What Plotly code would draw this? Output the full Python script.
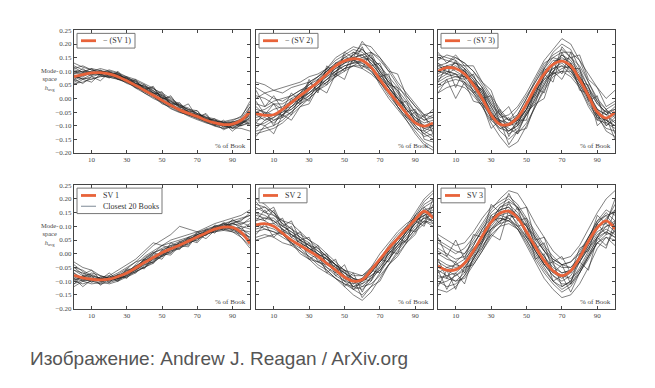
import plotly.graph_objects as go

# ---------------- data (values in thousandths of mode-space units) ----------------
x_pct = [0, 5, 10, 15, 20, 25, 30, 35, 40, 45, 50, 55, 60, 65, 70, 75, 80, 85, 90, 95, 100]
x_ticks = [10, 30, 50, 70, 90]
y_ticks = [-0.20, -0.15, -0.10, -0.05, 0.00, 0.05, 0.10, 0.15, 0.20, 0.25]

panel_titles = ["− (SV 1)", "− (SV 2)", "− (SV 3)", "SV 1", "SV 2", "SV 3"]
books_label = "Closest 20 Books"

sv_neg1 = [80, 88, 94, 95, 90, 80, 65, 48, 30, 12, -7, -25, -42, -55, -66, -80, -90, -96, -94, -80, -48]
sv_neg2 = [-55, -62, -60, -40, -15, 10, 35, 60, 90, 120, 138, 146, 140, 115, 70, 25, -15, -55, -90, -102, -90]
sv_neg3 = [100, 113, 110, 90, 50, 0, -60, -95, -95, -70, -20, 40, 90, 125, 137, 120, 70, 10, -50, -72, -50]
sv_pos1 = [-79, -88, -93, -95, -93, -83, -70, -52, -32, -14, 4, 18, 31, 46, 61, 76, 90, 97, 96, 78, 37]
sv_pos2 = [105, 110, 100, 75, 50, 30, 10, -10, -35, -60, -85, -100, -95, -60, -20, 20, 55, 90, 125, 155, 130]
sv_pos3 = [-45, -60, -58, -35, 10, 65, 115, 148, 155, 130, 80, 25, -25, -62, -80, -62, -15, 45, 95, 120, 90]

books_neg1 = [
    [105, 98, 110, 102, 95, 88, 72, 60, 38, 22, 5, -15, -30, -50, -62, -78, -85, -100, -92, -85, -60],
    [60, 75, 70, 82, 78, 70, 62, 40, 28, 15, -10, -30, -45, -60, -75, -85, -100, -110, -105, -95, -70],
    [130, 115, 105, 100, 92, 85, 75, 55, 45, 25, 10, -5, -25, -40, -58, -70, -82, -90, -88, -75, -30],
    [90, 95, 100, 110, 100, 92, 78, 62, 40, 20, 0, -20, -38, -50, -60, -75, -95, -100, -110, -100, -90],
    [55, 60, 72, 80, 85, 75, 55, 45, 20, 0, -15, -35, -50, -62, -70, -85, -92, -95, -90, -80, -100],
    [100, 90, 85, 95, 105, 95, 80, 70, 55, 38, 15, -10, -25, -35, -55, -70, -80, -88, -82, -65, -20],
    [75, 80, 95, 90, 85, 82, 70, 50, 35, 15, -5, -20, -45, -60, -72, -88, -102, -110, -100, -90, -75],
    [110, 120, 105, 95, 88, 70, 58, 45, 25, 10, -15, -38, -52, -58, -65, -75, -80, -92, -100, -85, -50],
    [85, 70, 80, 90, 95, 90, 70, 55, 42, 30, 5, -12, -28, -48, -70, -82, -95, -100, -95, -88, -40],
    [65, 85, 92, 88, 80, 78, 68, 52, 25, 8, -20, -30, -40, -52, -68, -80, -88, -98, -108, -110, -120],
    [95, 100, 90, 98, 92, 88, 65, 40, 32, 20, 2, -8, -35, -55, -60, -72, -85, -85, -78, -70, -10],
    [80, 72, 88, 100, 98, 85, 75, 65, 50, 28, 10, -22, -40, -45, -58, -78, -90, -105, -98, -92, -80],
    [120, 105, 95, 85, 78, 72, 60, 38, 20, 5, -10, -28, -48, -65, -78, -90, -98, -92, -86, -80, -65],
    [70, 90, 100, 92, 96, 80, 62, 55, 45, 35, 20, 0, -20, -42, -55, -68, -75, -88, -95, -100, -85],
    [90, 110, 85, 105, 80, 95, 60, 70, 30, 45, -5, 10, -35, -20, -70, -55, -95, -80, -110, -90, -70],
    [70, 55, 80, 65, 95, 70, 75, 45, 50, 20, 15, -20, -15, -50, -45, -80, -75, -105, -85, -100, -55],
    [115, 95, 110, 85, 100, 75, 80, 55, 35, 40, 0, 5, -30, -40, -45, -85, -90, -115, -100, -75, -95],
    [50, 70, 60, 90, 75, 100, 60, 65, 35, 15, 25, -25, -20, -55, -65, -60, -100, -90, -120, -95, -30],
]
books_neg2 = [
    [-80, -70, -90, -60, -30, 0, 20, 50, 80, 110, 130, 150, 160, 130, 90, 40, 0, -40, -80, -110, -120],
    [-20, -30, -10, 0, 10, 30, 50, 70, 100, 130, 150, 140, 120, 100, 60, 20, -20, -60, -100, -130, -150],
    [-120, -110, -100, -80, -50, -20, 10, 40, 70, 100, 120, 130, 140, 120, 80, 40, 0, -40, -70, -90, -80],
    [0, 20, 30, 40, 50, 60, 80, 90, 110, 140, 160, 180, 170, 140, 100, 60, 30, -10, -50, -80, -60],
    [-60, -80, -70, -50, -40, -10, 20, 50, 70, 90, 110, 120, 110, 90, 60, 20, -30, -70, -110, -140, -130],
    [-100, -90, -70, -40, -10, 20, 40, 60, 90, 110, 130, 160, 200, 190, 150, 100, 50, 0, -50, -70, -100],
    [-40, -50, -60, -50, -20, 0, 30, 70, 100, 130, 140, 150, 140, 110, 50, 0, -40, -80, -120, -160, -180],
    [-70, -60, -40, -30, -10, 20, 60, 80, 110, 120, 140, 160, 180, 150, 120, 80, 40, 10, -30, -60, -50],
    [40, 20, 0, -10, 10, 30, 40, 60, 80, 100, 120, 130, 130, 100, 60, 10, -30, -70, -90, -110, -100],
    [-130, -120, -110, -90, -60, -30, 0, 30, 60, 90, 110, 120, 120, 110, 80, 40, 0, -30, -70, -100, -110],
    [-50, -40, -20, -20, 0, 20, 50, 80, 110, 150, 170, 190, 180, 150, 100, 40, -10, -50, -100, -130, -110],
    [-90, -100, -80, -60, -40, -10, 10, 40, 60, 80, 100, 120, 140, 150, 120, 70, 20, -20, -60, -80, -70],
    [10, 0, -20, -40, -30, 0, 20, 40, 70, 100, 130, 140, 130, 110, 70, 30, -30, -80, -130, -170, -190],
    [-110, -80, -60, -60, -30, -10, 30, 60, 90, 120, 150, 170, 160, 130, 90, 50, 10, -40, -80, -100, -90],
    [60, 50, 30, 20, 40, 50, 60, 80, 100, 120, 140, 150, 160, 170, 150, 110, 60, 20, -20, -60, -70],
    [-30, -60, -80, -70, -50, -20, 0, 30, 50, 80, 110, 140, 150, 140, 110, 60, 0, -60, -110, -120, -140],
    [-90, -50, -100, -40, -60, 10, -10, 70, 50, 130, 100, 170, 150, 160, 80, 90, -20, -10, -90, -60, -130],
    [-10, -60, -20, -70, 0, -20, 60, 30, 110, 80, 160, 130, 190, 120, 130, 50, 40, -50, -40, -120, -100],
    [-140, -100, -130, -60, -80, -30, -20, 40, 20, 90, 70, 150, 110, 170, 100, 60, 30, -70, -50, -150, -160],
    [30, -30, 10, -40, 20, -10, 70, 20, 120, 90, 170, 150, 210, 170, 140, 100, 90, 10, -30, -70, -40],
]
books_neg3 = [
    [150, 140, 130, 100, 70, 20, -30, -80, -100, -90, -40, 20, 80, 130, 160, 140, 90, 20, -40, -60, -30],
    [60, 80, 90, 80, 40, -10, -70, -120, -150, -120, -60, 0, 60, 100, 120, 110, 60, 0, -60, -100, -80],
    [120, 130, 150, 130, 100, 60, 10, -40, -80, -60, 0, 60, 120, 160, 180, 150, 100, 40, -20, -50, -60],
    [80, 100, 90, 60, 20, -30, -80, -110, -120, -100, -50, 10, 70, 110, 130, 100, 50, -10, -70, -110, -120],
    [160, 150, 140, 110, 80, 40, -20, -70, -60, -30, 20, 80, 140, 180, 220, 200, 140, 60, 0, -40, -20],
    [40, 60, 70, 60, 30, -10, -60, -90, -110, -130, -90, -30, 40, 90, 110, 120, 80, 20, -40, -80, -100],
    [110, 120, 100, 80, 60, 10, -40, -100, -130, -110, -60, -10, 50, 100, 140, 150, 120, 60, -10, -60, -40],
    [130, 110, 120, 100, 60, 30, -20, -60, -80, -80, -40, 30, 100, 140, 140, 110, 40, -30, -80, -90, -60],
    [90, 110, 130, 120, 80, 40, -10, -60, -100, -80, -30, 40, 90, 110, 120, 90, 50, 0, -40, -60, -90],
    [20, 40, 50, 40, 10, -30, -90, -140, -180, -160, -100, -30, 30, 80, 100, 100, 60, 10, -50, -90, -110],
    [140, 160, 150, 130, 100, 50, 0, -50, -80, -40, 10, 60, 110, 150, 170, 170, 140, 90, 40, 0, 30],
    [100, 90, 80, 70, 30, -20, -70, -110, -100, -80, -40, 20, 80, 130, 150, 130, 80, 20, -60, -120, -140],
    [70, 90, 110, 100, 60, 10, -50, -90, -120, -90, -40, 40, 110, 170, 200, 180, 110, 40, -10, -40, -70],
    [120, 100, 90, 50, 20, -20, -60, -80, -90, -70, -20, 30, 70, 90, 100, 80, 40, -20, -70, -80, -50],
    [50, 70, 80, 80, 60, 30, -30, -90, -120, -100, -60, 0, 50, 120, 160, 130, 80, 30, -20, -50, -40],
    [100, 120, 130, 110, 70, 20, -50, -100, -100, -60, 0, 70, 130, 150, 140, 110, 70, 0, -60, -80, -100],
    [130, 90, 140, 70, 90, 0, 10, -90, -70, -130, -50, -20, 90, 60, 170, 110, 110, -10, 10, -100, -70],
    [60, 120, 40, 110, 20, 40, -80, -40, -140, -80, -80, 40, 20, 130, 90, 170, 60, 50, -80, -40, -130],
    [170, 130, 160, 120, 120, 60, 30, -60, -30, -100, -10, 10, 110, 90, 190, 150, 160, 70, 40, -30, -10],
    [20, 70, 0, 60, -10, -20, -110, -80, -170, -120, -110, -20, 0, 100, 70, 130, 30, 20, -100, -70, -150],
]
books_pos1 = [
    [-30, -50, -60, -80, -90, -85, -70, -40, -10, 10, 30, 40, 50, 60, 70, 80, 90, 100, 110, 120, 150],
    [-100, -110, -100, -95, -90, -80, -60, -50, -40, -20, -10, 10, 20, 40, 50, 70, 85, 95, 90, 80, 60],
    [-60, -70, -90, -100, -95, -90, -80, -60, -30, 0, 30, 50, 60, 70, 80, 95, 110, 120, 130, 140, 160],
    [-120, -100, -95, -90, -100, -90, -70, -45, -25, -10, 0, 20, 40, 50, 60, 75, 80, 90, 80, 60, 30],
    [-80, -85, -70, -80, -90, -75, -55, -30, 0, 30, 50, 70, 100, 90, 80, 85, 95, 100, 110, 100, 90],
    [-90, -100, -110, -105, -95, -90, -85, -65, -50, -30, -5, 10, 25, 40, 60, 80, 95, 100, 95, 70, 40],
    [-50, -60, -80, -90, -85, -70, -50, -30, -20, 0, 20, 30, 35, 45, 55, 70, 85, 105, 120, 130, 140],
    [-110, -95, -90, -100, -110, -100, -85, -70, -45, -20, 0, 15, 30, 50, 70, 85, 100, 110, 100, 90, 70],
    [-70, -90, -95, -85, -80, -60, -40, -20, 10, 40, 30, 20, 30, 50, 70, 80, 90, 95, 105, 110, 120],
    [-100, -80, -75, -90, -95, -85, -75, -60, -40, -30, -10, 5, 20, 35, 55, 70, 80, 85, 80, 70, 50],
    [-40, -65, -85, -95, -100, -90, -80, -50, -20, 5, 15, 25, 40, 60, 75, 90, 100, 105, 110, 125, 140],
    [-85, -95, -100, -110, -105, -95, -80, -65, -50, -35, -5, 15, 35, 55, 65, 75, 85, 90, 85, 75, 60],
    [-95, -85, -80, -90, -85, -80, -70, -55, -35, -15, 10, 30, 45, 55, 60, 70, 95, 110, 120, 115, 100],
    [-60, -80, -95, -100, -90, -80, -65, -45, -25, -5, 5, 20, 30, 45, 60, 80, 90, 95, 90, 85, 80],
    [-70, -100, -80, -115, -90, -100, -60, -70, -20, -35, 15, 0, 45, 30, 80, 65, 105, 90, 125, 105, 130],
    [-110, -80, -105, -85, -105, -75, -90, -50, -55, -10, -20, 25, 15, 60, 45, 90, 75, 110, 85, 100, 50],
    [-50, -75, -60, -95, -70, -95, -55, -60, -15, 5, -10, 40, 25, 50, 40, 75, 100, 85, 115, 90, 110],
    [-90, -120, -95, -110, -80, -100, -75, -45, -50, -25, 0, -5, 30, 25, 70, 55, 85, 115, 95, 60, 20],
]
books_pos2 = [
    [150, 140, 120, 100, 80, 50, 20, 0, -20, -50, -80, -120, -130, -100, -50, 0, 40, 80, 130, 180, 200],
    [80, 90, 80, 60, 40, 20, -10, -40, -60, -90, -110, -120, -100, -70, -30, 10, 40, 80, 110, 130, 120],
    [200, 180, 150, 120, 90, 60, 40, 10, -20, -40, -60, -80, -80, -50, -20, 20, 60, 100, 150, 200, 230],
    [120, 130, 120, 90, 60, 40, 20, -10, -50, -80, -100, -130, -150, -120, -70, -20, 20, 60, 100, 130, 140],
    [60, 70, 60, 40, 30, 10, -10, -30, -50, -70, -100, -110, -90, -50, 0, 40, 80, 110, 130, 150, 110],
    [170, 150, 140, 120, 110, 80, 50, 30, 0, -30, -60, -90, -110, -90, -40, 0, 30, 70, 110, 150, 170],
    [100, 110, 110, 90, 70, 40, 20, 0, -30, -50, -70, -90, -100, -80, -50, -10, 30, 70, 110, 160, 170],
    [130, 120, 100, 70, 40, 10, -20, -50, -70, -90, -120, -150, -170, -140, -90, -40, 10, 50, 90, 120, 100],
    [50, 60, 70, 80, 70, 50, 30, 10, -10, -40, -60, -70, -80, -60, -30, 10, 50, 90, 140, 190, 220],
    [160, 170, 150, 110, 70, 50, 30, 0, -20, -40, -70, -100, -120, -110, -80, -40, 0, 40, 80, 110, 130],
    [90, 100, 90, 70, 40, 0, -20, -30, -40, -60, -90, -120, -110, -70, -20, 30, 70, 100, 120, 140, 150],
    [140, 130, 130, 100, 80, 60, 30, 20, -10, -40, -80, -100, -90, -60, -30, 0, 40, 80, 120, 140, 160],
    [110, 90, 80, 70, 50, 30, 0, -20, -60, -90, -110, -130, -120, -90, -60, -20, 20, 50, 90, 120, 110],
    [180, 170, 140, 110, 90, 70, 50, 20, -10, -40, -70, -90, -100, -70, -30, 20, 60, 90, 140, 170, 190],
    [120, 160, 110, 130, 60, 80, 10, 30, -40, -20, -100, -70, -140, -80, -60, -20, 30, 50, 120, 100, 180],
    [190, 150, 170, 100, 120, 50, 60, -10, 0, -70, -40, -110, -90, -100, -20, -30, 60, 40, 140, 110, 200],
    [70, 110, 60, 90, 30, 50, -20, 0, -70, -40, -120, -90, -160, -120, -100, -40, -10, 40, 70, 140, 120],
    [150, 120, 160, 80, 100, 20, 40, -30, -10, -80, -60, -130, -100, -60, -70, 10, 0, 90, 80, 170, 140],
]
books_pos3 = [
    [0, -20, -30, 0, 50, 100, 150, 180, 200, 170, 120, 70, 20, -20, -40, -30, 0, 60, 120, 160, 140],
    [-100, -120, -110, -80, -30, 20, 80, 120, 130, 100, 50, 0, -50, -100, -130, -110, -60, 0, 50, 80, 60],
    [40, 20, 0, 20, 60, 110, 160, 200, 230, 220, 170, 110, 60, 10, -20, -10, 30, 90, 150, 200, 230],
    [-80, -90, -100, -70, -20, 40, 90, 110, 120, 90, 40, -20, -70, -110, -140, -120, -70, -10, 40, 60, 30],
    [-20, -40, -50, -40, 10, 70, 120, 170, 180, 150, 100, 60, 10, -30, -50, -50, -20, 30, 90, 130, 160],
    [-130, -140, -120, -80, -20, 30, 70, 100, 110, 90, 50, -10, -60, -100, -120, -100, -50, 10, 60, 100, 110],
    [20, 0, -20, -10, 30, 90, 140, 160, 170, 140, 80, 30, -10, -50, -70, -60, -20, 40, 110, 150, 120],
    [-60, -80, -70, -40, 0, 50, 100, 140, 150, 110, 60, 10, -40, -80, -100, -80, -30, 20, 70, 90, 70],
    [70, 50, 30, 40, 80, 130, 170, 190, 210, 180, 130, 80, 30, -10, -40, -50, -10, 50, 100, 110, 80],
    [-40, -60, -80, -60, -20, 40, 110, 140, 130, 90, 30, -30, -90, -130, -160, -150, -110, -50, 20, 60, 50],
    [-70, -50, -40, -20, 20, 60, 90, 120, 140, 130, 100, 50, 10, -20, -40, -30, 10, 60, 110, 140, 150],
    [10, -10, -40, -50, -10, 50, 110, 160, 170, 130, 70, 10, -40, -70, -90, -70, -30, 20, 60, 80, 60],
    [-110, -100, -80, -50, 0, 60, 120, 130, 120, 100, 60, 20, -20, -60, -80, -90, -60, -10, 60, 120, 180],
    [-30, -50, -60, -30, 30, 90, 130, 150, 160, 140, 100, 40, -10, -60, -80, -60, -10, 60, 120, 140, 100],
    [50, 30, 10, 0, 40, 80, 120, 170, 190, 170, 110, 60, 10, -40, -70, -60, -30, 30, 80, 100, 120],
    [-90, -80, -100, -90, -40, 10, 60, 100, 140, 130, 80, 10, -40, -80, -110, -110, -70, -10, 40, 70, 80],
    [-20, -90, -30, -70, 20, 40, 140, 110, 190, 120, 130, 20, 40, -70, -40, -110, 0, 10, 110, 70, 160],
    [-120, -60, -130, -50, -40, 10, 70, 50, 160, 100, 110, -20, 0, -100, -80, -140, -70, -20, 40, 20, 120],
    [60, -10, 50, -20, 70, 60, 180, 150, 220, 160, 170, 50, 60, -30, -10, -70, 20, 40, 140, 110, 200],
    [-60, -130, -70, -110, -10, 20, 90, 130, 120, 170, 60, 40, -40, -30, -120, -100, -30, -60, 60, 30, 90],
]

sv_curves = [sv_neg1, sv_neg2, sv_neg3, sv_pos1, sv_pos2, sv_pos3]
book_sets = [books_neg1, books_neg2, books_neg3, books_pos1, books_pos2, books_pos3]

# ---------------- layout geometry (pixels) ----------------
W, H = 655, 388
col_px = [(74, 250), (256, 433), (438, 615)]
row_px = [(27, 152), (185, 311)]
legend_w = [58, 59, 57, 85, 48, 44]

ORANGE = "#E8633A"
GRAY = "rgba(35,35,35,0.72)"
SERIF = "Liberation Serif"
TXT = "#444"


def px(x):
    return x / W


def py(y):
    return 1 - y / H


fig = go.Figure()
layout = {}
shapes = []
annotations = []

for p in range(6):
    r, c = divmod(p, 3)
    ax = "" if p == 0 else str(p + 1)
    xa, ya = "x" + ax, "y" + ax
    xd = [px(col_px[c][0]), px(col_px[c][1])]
    yd = [py(row_px[r][1]), py(row_px[r][0])]

    for book in book_sets[p]:
        fig.add_trace(go.Scatter(
            x=x_pct, y=[v / 1000 for v in book], xaxis=xa, yaxis=ya,
            mode="lines", line=dict(color=GRAY, width=0.8),
            name=books_label, showlegend=False, hoverinfo="skip"))
    fig.add_trace(go.Scatter(
        x=x_pct, y=[v / 1000 for v in sv_curves[p]], xaxis=xa, yaxis=ya,
        mode="lines", line=dict(color=ORANGE, width=2.8, shape="spline"),
        name=panel_titles[p], showlegend=False))

    axis_common = dict(showline=True, linecolor="#444", linewidth=1, mirror="ticks",
                       ticks="inside", ticklen=3, tickcolor="#444", showgrid=False,
                       zeroline=False, tickfont=dict(family=SERIF, size=7, color="#4a4a4a"))
    layout["xaxis" + ax] = dict(domain=xd, range=[0, 100], tickvals=x_ticks,
                                anchor=ya, **axis_common)
    layout["yaxis" + ax] = dict(domain=yd, range=[-0.2, 0.25], tickvals=y_ticks,
                                tickformat=".2f", showticklabels=(c == 0),
                                anchor=xa, **axis_common)

    # legend box drawn in the upper-left corner of each panel
    entries = [(panel_titles[p], ORANGE, 2.8)]
    if p == 3:
        entries.append((books_label, "#7d8a96", 1))
    bx0 = col_px[c][0] + 3
    by0 = row_px[r][0] + 3
    bh = 4 + 11 * len(entries)
    shapes.append(dict(type="rect", xref="paper", yref="paper",
                       x0=px(bx0), x1=px(bx0 + legend_w[p]), y0=py(by0), y1=py(by0 + bh),
                       line=dict(color="#777", width=1), fillcolor="white", layer="above"))
    for k, (lab, colr, lw) in enumerate(entries):
        yy = by0 + 7.5 + 11 * k
        shapes.append(dict(type="line", xref="paper", yref="paper",
                           x0=px(bx0 + 4), x1=px(bx0 + 19), y0=py(yy), y1=py(yy),
                           line=dict(color=colr, width=lw), layer="above"))
        annotations.append(dict(x=px(bx0 + 24), y=py(yy), xref="paper", yref="paper",
                                text=lab, showarrow=False, xanchor="left", yanchor="middle",
                                font=dict(family=SERIF, size=8, color="#333")))

    annotations.append(dict(x=99, y=-0.2, xref=xa, yref=ya, text="% of Book",
                            showarrow=False, xanchor="right", yanchor="bottom", yshift=1,
                            font=dict(family=SERIF, size=7, color=TXT)))

for r in range(2):
    annotations.append(dict(x=px(49), y=py(row_px[r][0] + 50), xref="paper", yref="paper",
                            text="Mode-<br>space<br><i>h</i><sub>avg</sub>", showarrow=False,
                            align="center", xanchor="center", yanchor="middle",
                            font=dict(family=SERIF, size=6.5, color=TXT)))

annotations.append(dict(x=px(28), y=py(362), xref="paper", yref="paper",
                        text="Изображение: Andrew J. Reagan / ArXiv.org", showarrow=False,
                        xanchor="left", yanchor="middle",
                        font=dict(family="Liberation Sans", size=19, color="#555")))

fig.update_layout(width=W, height=H, margin=dict(l=0, r=0, t=0, b=0),
                  paper_bgcolor="white", plot_bgcolor="white",
                  shapes=shapes, annotations=annotations, **layout)

fig.write_html("out.html", config={"displayModeBar": False},
               post_script="document.body.style.margin='0';")
